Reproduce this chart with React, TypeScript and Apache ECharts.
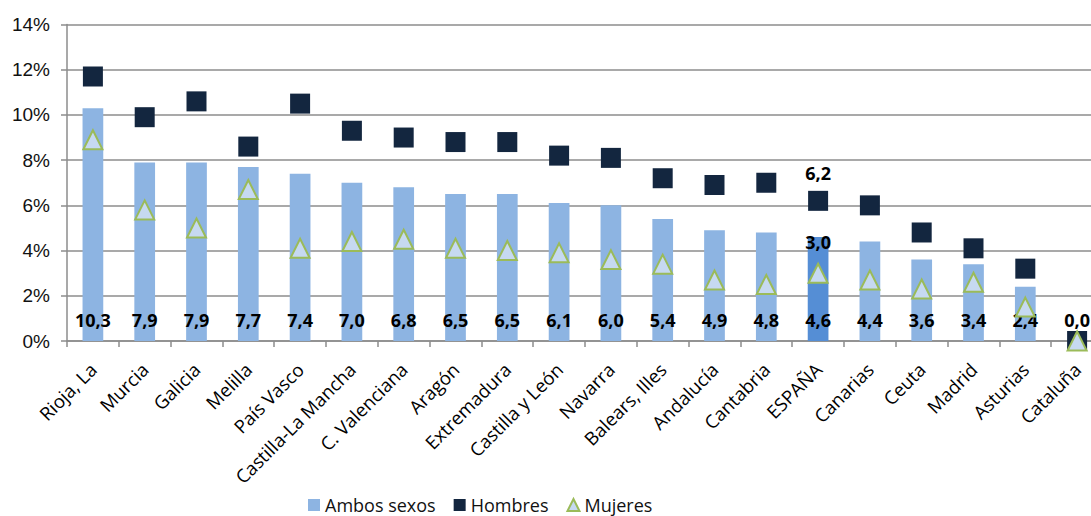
import React, { useEffect, useRef } from "react";
import * as echarts from "echarts";

const categories = [
  "Rioja, La", "Murcia", "Galicia", "Melilla", "País Vasco", "Castilla-La Mancha",
  "C. Valenciana", "Aragón", "Extremadura", "Castilla y León", "Navarra", "Balears, Illes",
  "Andalucía", "Cantabria", "ESPAÑA", "Canarias", "Ceuta", "Madrid", "Asturias", "Cataluña",
];
const ambosSexos = [10.3, 7.9, 7.9, 7.7, 7.4, 7.0, 6.8, 6.5, 6.5, 6.1, 6.0, 5.4, 4.9, 4.8, 4.6, 4.4, 3.6, 3.4, 2.4, 0.0];
const hombres = [11.7, 9.9, 10.6, 8.6, 10.5, 9.3, 9.0, 8.8, 8.8, 8.2, 8.1, 7.2, 6.9, 7.0, 6.2, 6.0, 4.8, 4.1, 3.2, 0.0];
const mujeres = [8.9, 5.8, 5.0, 6.7, 4.1, 4.4, 4.5, 4.1, 4.0, 3.9, 3.6, 3.4, 2.7, 2.5, 3.0, 2.7, 2.3, 2.6, 1.5, 0.0];
const yTicks = [0, 2, 4, 6, 8, 10, 12, 14];
const highlight = "ESPAÑA";

const fmt = (v: number) => v.toFixed(1).replace(".", ",");

export default function App() {
  const ref = useRef<HTMLDivElement>(null);
  useEffect(() => {
    if (!ref.current) return;
    const chart = echarts.init(ref.current, undefined, { renderer: "svg" });
    const hi = categories.indexOf(highlight);
    const labelFont = { fontFamily: "Open Sans", fontWeight: "bold" as const, fontSize: 18, color: "#000" };
    chart.setOption({
      animation: false,
      grid: { left: 67, right: 0, top: 24.5, bottom: 175, containLabel: false },
      legend: {
        left: 303,
        top: 491,
        itemWidth: 12,
        itemHeight: 12,
        itemGap: 18,
        textStyle: { fontFamily: "Open Sans", fontSize: 18, color: "#111" },
        data: [
          { name: "Ambos sexos", icon: "rect" },
          { name: "Hombres", icon: "rect" },
          { name: "Mujeres", icon: "triangle" },
        ],
      },
      xAxis: {
        type: "category",
        data: categories,
        boundaryGap: true,
        axisLine: { show: true, lineStyle: { color: "#8c8c8c", width: 1.5 } },
        axisTick: { show: true, alignWithLabel: false, length: 6, lineStyle: { color: "#8c8c8c", width: 1.5 } },
        axisLabel: {
          rotate: 45,
          interval: 0,
          margin: 25,
          fontFamily: "Open Sans",
          fontSize: 18.5,
          color: "#000",
        },
      },
      yAxis: {
        type: "value",
        min: yTicks[0],
        max: yTicks[yTicks.length - 1],
        interval: 2,
        axisLine: { show: true, lineStyle: { color: "#8c8c8c", width: 1.5 } },
        axisTick: { show: true, length: 6, lineStyle: { color: "#8c8c8c", width: 1.5 } },
        splitLine: { show: true, lineStyle: { color: "#8c8c8c", width: 1.5 } },
        axisLabel: {
          formatter: "{value}%",
          fontFamily: "Liberation Sans",
          fontSize: 19,
          color: "#111",
          margin: 17,
        },
      },
      series: [
        {
          name: "Ambos sexos",
          type: "bar",
          barWidth: "40%",
          itemStyle: { color: "#8DB4E2" },
          data: ambosSexos.map((v, i) =>
            i === hi ? { value: v, itemStyle: { color: "#558ED5" } } : v
          ),
          label: {
            show: true,
            position: "insideBottom",
            distance: 12,
            formatter: (p: any) => fmt(p.value),
            ...labelFont,
          },
          z: 2,
        },
        {
          name: "Hombres",
          type: "scatter",
          symbol: "rect",
          symbolSize: 20,
          itemStyle: { color: "#13263F", opacity: 1 },
          data: hombres.map((v, i) =>
            i === hi
              ? { value: v, label: { show: true, position: "top", distance: 9, formatter: (p: any) => fmt(p.value), ...labelFont } }
              : v
          ),
          z: 3,
        },
        {
          name: "Mujeres",
          type: "scatter",
          symbol: "triangle",
          symbolSize: 19,
          itemStyle: { color: "#C6D9F1", borderColor: "#9BBB59", borderWidth: 2, opacity: 1 },
          data: mujeres.map((v, i) =>
            i === hi
              ? { value: v, label: { show: true, position: "top", distance: 12, formatter: (p: any) => fmt(p.value), ...labelFont } }
              : v
          ),
          z: 4,
        },
      ],
    });
    return () => chart.dispose();
  }, []);
  return (
    <div style={{ position: "absolute", left: 0, top: 0, width: 1091, height: 516, overflow: "hidden", background: "#fff" }}>
      <div ref={ref} style={{ width: 1103, height: 516 }} />
    </div>
  );
}
